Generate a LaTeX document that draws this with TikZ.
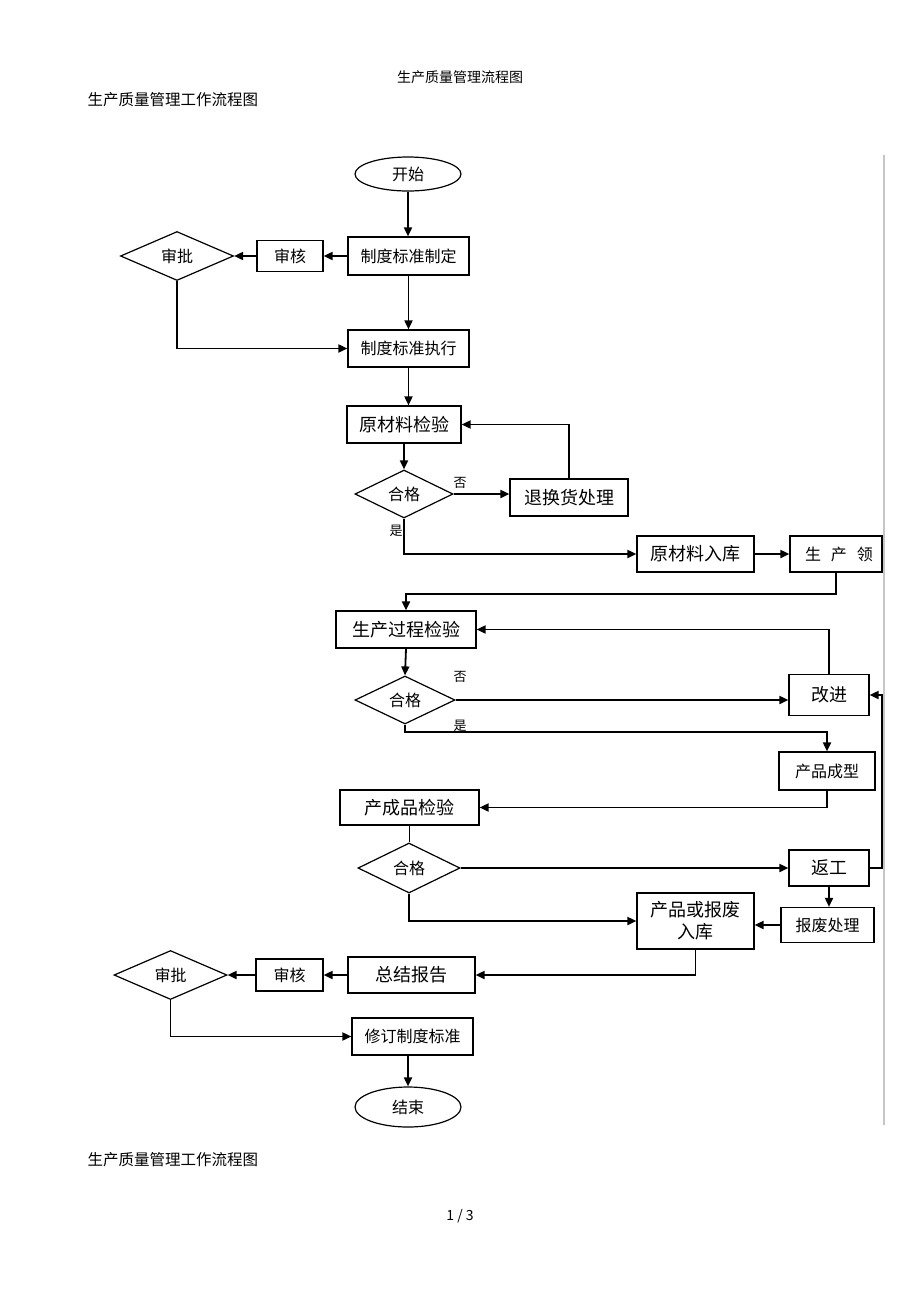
\documentclass[tikz,border=0pt]{standalone}
\usepackage{fontspec}
\setmainfont{Noto Sans CJK SC}
\usetikzlibrary{shapes.geometric,arrows.meta}
\tikzset{
	box/.style={draw, line width=1.2pt, inner sep=0pt, align=center, font=\fontsize{16}{19}\selectfont},
	bigbox/.style={box, font=\fontsize{18}{22}\selectfont},
	check/.style={draw, diamond, line width=1.2pt, inner sep=0pt, font=\fontsize{16}{19}\selectfont},
	terminal/.style={draw, ellipse, line width=1.2pt, inner sep=0pt, font=\fontsize{16}{19}\selectfont},
	arr/.style={-{Triangle[length=9pt,width=8pt]}, line width=1.8pt},
	link/.style={line width=1.4pt},
	note/.style={font=\fontsize{13}{15}\selectfont}
}

\begin{document}
\begin{tikzpicture}[x=1pt, y=-1pt]
	\useasboundingbox (0,0) rectangle (920,1302);
	\node (title) at (460,77) {\fontsize{14}{16}\selectfont 生产质量管理流程图};
	\node[anchor=west] (subtop) at (84,100) {\fontsize{15.5}{18}\selectfont 生产质量管理工作流程图};
	\node[anchor=west] (subbottom) at (84,1160) {\fontsize{15.5}{18}\selectfont 生产质量管理工作流程图};
	\node (page) at (460,1216) {\fontsize{14}{16}\selectfont 1 / 3};
	\draw[gray!45, line width=1.5pt] (884,155) -- (884,1125);

	\node[terminal, minimum width=106, minimum height=34] (kaishi) at (408,174) {开始};
	\node[box, minimum width=121, minimum height=38] (zhiding) at (408.5,256) {制度标准制定};
	\node[box, minimum width=66, minimum height=31] (shenhe1) at (290,256) {审核};
	\node[check, minimum width=113, minimum height=49] (shenpi1) at (177,256) {审批};
	\node[box, minimum width=121, minimum height=37] (zhixing) at (408.5,348.5) {制度标准执行};
	\node[bigbox, minimum width=114, minimum height=37] (yuancai) at (404,424.5) {原材料检验};
	\node[check, minimum width=98, minimum height=48] (hege1) at (404,494) {合格};
	\node[bigbox, minimum width=118, minimum height=37] (tuihuan) at (569,497.5) {退换货处理};
	\node[bigbox, minimum width=117, minimum height=36] (ruku) at (695.5,554) {原材料入库};
	\node[box, minimum width=92, minimum height=36] (lingliao) at (836,554) {\hspace{6pt}生\hspace{10pt}产\hspace{10pt}领};
	\node[bigbox, minimum width=140, minimum height=37] (guocheng) at (406,629.5) {生产过程检验};
	\node[check, minimum width=100, minimum height=48] (hege2) at (405,700) {合格};
	\node[bigbox, minimum width=80, minimum height=41] (gaijin) at (829,695) {改进};
	\node[box, minimum width=96, minimum height=38] (chengxing) at (827,771) {产品成型};
	\node[bigbox, minimum width=139, minimum height=35] (chengpin) at (409.5,807.5) {产成品检验};
	\node[check, minimum width=102, minimum height=50] (hege3) at (409,868) {合格};
	\node[bigbox, minimum width=80, minimum height=36] (fangong) at (829,868) {返工};
	\node[box, minimum width=93, minimum height=35] (baofei) at (827.5,925) {报废处理};
	\node[bigbox, minimum width=117, minimum height=56] (ruku2) at (695.5,921) {产品或报废\\入库};
	\node[bigbox, minimum width=127, minimum height=36] (zongjie) at (411.5,975) {总结报告};
	\node[box, minimum width=67, minimum height=32] (shenhe2) at (289.5,975) {审核};
	\node[check, minimum width=113, minimum height=49] (shenpi2) at (170.5,975) {审批};
	\node[box, minimum width=121, minimum height=37] (xiuding) at (412.5,1036.5) {修订制度标准};
	\node[terminal, minimum width=106, minimum height=40] (jieshu) at (408,1107) {结束};

	\node[note] (fou1) at (460,483) {否};
	\node[note] (shi1) at (396,531) {是};
	\node[note] (fou2) at (460,677) {否};
	\node[note] (shi2) at (460,726) {是};

	\draw[arr] (kaishi.south) -- (kaishi.south |- zhiding.north);
	\draw[arr] (zhiding.west) -- (shenhe1.east);
	\draw[arr] (shenhe1.west) -- (shenpi1.east);
	\draw[arr] (shenpi1.south) |- (zhixing.west);
	\draw[arr] (zhiding.south) -- (zhixing.north);
	\draw[arr] (zhixing.south) -- (zhixing.south |- yuancai.north);
	\draw[arr] (yuancai.south) -- (hege1.north);
	\draw[arr] (hege1.east) -- (hege1.east -| tuihuan.west);
	\draw[arr] (tuihuan.north) |- (yuancai.east);
	\draw[arr] (hege1.south) |- (ruku.west);
	\draw[arr] (ruku.east) -- (lingliao.west);
	\draw[arr] (lingliao.south) -- ++(0,21) -| (guocheng.north);
	\draw[arr] (guocheng.south) -- (hege2.north);
	\draw[arr] (hege2.east) -- (hege2.east -| gaijin.west);
	\draw[arr] (gaijin.north) |- (guocheng.east);
	\draw[arr] (hege2.south) -- ++(0,7) -| (chengxing.north);
	\draw[arr] (chengxing.south) |- (chengpin.east);
	\draw[link] (chengpin.south) -- (chengpin.south |- hege3.north);
	\draw[arr] (hege3.east) -- (fangong.west);
	\draw[arr] (fangong.east) -- ++(12,0) |- (gaijin.east);
	\draw[arr] (fangong.south) -- (fangong.south |- baofei.north);
	\draw[arr] (baofei.west) -- (baofei.west -| ruku2.east);
	\draw[arr] (hege3.south) |- (ruku2.west);
	\draw[arr] (ruku2.south) |- (zongjie.east);
	\draw[arr] (zongjie.west) -- (shenhe2.east);
	\draw[arr] (shenhe2.west) -- (shenpi2.east);
	\draw[arr] (shenpi2.south) |- (xiuding.west);
	\draw[arr] (jieshu.north |- xiuding.south) -- (jieshu.north);
\end{tikzpicture}
\end{document}
